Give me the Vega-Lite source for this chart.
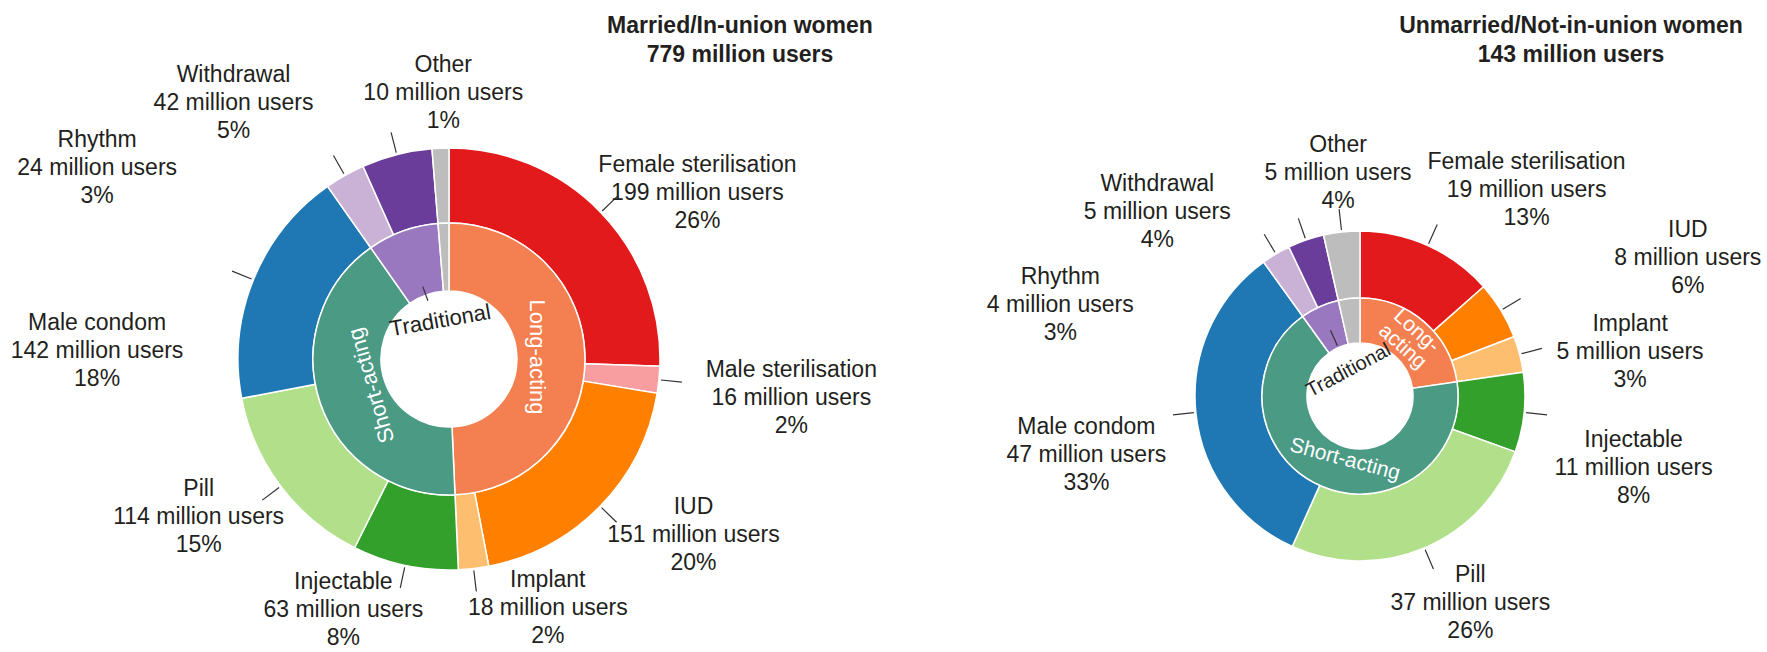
{
  "$schema": "https://vega.github.io/schema/vega-lite/v6.json",
  "background": "white",
  "padding": 0,
  "spacing": 0,
  "bounds": "flush",
  "config": {
    "view": {"stroke": null},
    "title": {"font": "Liberation Sans", "fontSize": 23, "fontWeight": "bold", "color": "#231f20", "lineHeight": 29},
    "text": {"font": "Liberation Sans", "fontSize": 23, "lineHeight": 28, "lineBreak": "\n", "color": "#231f20"}
  },
  "data": {"values": [
    {"group": "married", "seq": 1, "method": "Female sterilisation", "cat": "Long-acting", "users": 199, "label": "Female sterilisation\n199 million users\n26%"},
    {"group": "married", "seq": 2, "method": "Male sterilisation", "cat": "Long-acting", "users": 16, "label": "Male sterilisation\n16 million users\n2%"},
    {"group": "married", "seq": 3, "method": "IUD", "cat": "Long-acting", "users": 151, "label": "IUD\n151 million users\n20%"},
    {"group": "married", "seq": 4, "method": "Implant", "cat": "Long-acting", "users": 18, "label": "Implant\n18 million users\n2%"},
    {"group": "married", "seq": 5, "method": "Injectable", "cat": "Short-acting", "users": 63, "label": "Injectable\n63 million users\n8%"},
    {"group": "married", "seq": 6, "method": "Pill", "cat": "Short-acting", "users": 114, "label": "Pill\n114 million users\n15%"},
    {"group": "married", "seq": 7, "method": "Male condom", "cat": "Short-acting", "users": 142, "label": "Male condom\n142 million users\n18%"},
    {"group": "married", "seq": 8, "method": "Rhythm", "cat": "Traditional", "users": 24, "label": "Rhythm\n24 million users\n3%"},
    {"group": "married", "seq": 9, "method": "Withdrawal", "cat": "Traditional", "users": 42, "label": "Withdrawal\n42 million users\n5%"},
    {"group": "married", "seq": 10, "method": "Other", "cat": "Other", "users": 10, "label": "Other\n10 million users\n1%"},
    {"group": "unmarried", "seq": 1, "method": "Female sterilisation", "cat": "Long-acting", "users": 19, "label": "Female sterilisation\n19 million users\n13%"},
    {"group": "unmarried", "seq": 3, "method": "IUD", "cat": "Long-acting", "users": 8, "label": "IUD\n8 million users\n6%"},
    {"group": "unmarried", "seq": 4, "method": "Implant", "cat": "Long-acting", "users": 5, "label": "Implant\n5 million users\n3%"},
    {"group": "unmarried", "seq": 5, "method": "Injectable", "cat": "Short-acting", "users": 11, "label": "Injectable\n11 million users\n8%"},
    {"group": "unmarried", "seq": 6, "method": "Pill", "cat": "Short-acting", "users": 37, "label": "Pill\n37 million users\n26%"},
    {"group": "unmarried", "seq": 7, "method": "Male condom", "cat": "Short-acting", "users": 47, "label": "Male condom\n47 million users\n33%"},
    {"group": "unmarried", "seq": 8, "method": "Rhythm", "cat": "Traditional", "users": 4, "label": "Rhythm\n4 million users\n3%"},
    {"group": "unmarried", "seq": 9, "method": "Withdrawal", "cat": "Traditional", "users": 5, "label": "Withdrawal\n5 million users\n4%"},
    {"group": "unmarried", "seq": 10, "method": "Other", "cat": "Other", "users": 5, "label": "Other\n5 million users\n4%"}
  ]},
  "resolve": {"scale": {"theta": "independent", "x": "independent", "y": "independent"}},
  "hconcat": [
    {
      "width": 880,
      "height": 652,
      "title": {"text": ["Married/In-union women", "779 million users"], "anchor": "end", "align": "center", "dx": -140, "offset": -67},
      "transform": [{"filter": "datum.group === 'married'"}],
      "encoding": {
        "x": {"datum": 0, "type": "quantitative", "scale": {"domain": [-1, 0.96], "nice": false, "zero": false}, "axis": null},
        "y": {"datum": 0, "type": "quantitative", "scale": {"domain": [-1, 1.2253], "nice": false, "zero": false}, "axis": null}
      },
      "resolve": {"scale": {"theta": "independent"}},
      "layer": [
        {
          "mark": {"type": "arc", "radius": 211, "radius2": 136, "stroke": "#ffffff", "strokeWidth": 1.5},
          "encoding": {
            "theta": {"field": "users", "type": "quantitative", "stack": true},
            "order": {"field": "seq", "type": "quantitative"},
            "color": {"field": "method", "type": "nominal", "legend": null, "scale": {"domain": ["Female sterilisation","Male sterilisation","IUD","Implant","Injectable","Pill","Male condom","Rhythm","Withdrawal","Other","Long-acting","Short-acting","Traditional"], "range": ["#e31a1c","#f99ea0","#ff7f00","#fdbf6f","#33a02c","#b2df8a","#1f78b4","#cab2d6","#6a3d9a","#bdbdbd","#f47f50","#4a9a84","#9a78bf"]}}
          }
        },
        {
          "transform": [{"aggregate": [{"op": "sum", "field": "users", "as": "total"}, {"op": "min", "field": "seq", "as": "ord"}], "groupby": ["cat"]}],
          "mark": {"type": "arc", "radius": 136, "radius2": 68, "stroke": "#ffffff", "strokeWidth": 1.5},
          "encoding": {
            "theta": {"field": "total", "type": "quantitative", "stack": true},
            "order": {"field": "ord", "type": "quantitative"},
            "color": {"field": "cat", "type": "nominal", "legend": null, "scale": {"domain": ["Female sterilisation","Male sterilisation","IUD","Implant","Injectable","Pill","Male condom","Rhythm","Withdrawal","Other","Long-acting","Short-acting","Traditional"], "range": ["#e31a1c","#f99ea0","#ff7f00","#fdbf6f","#33a02c","#b2df8a","#1f78b4","#cab2d6","#6a3d9a","#bdbdbd","#f47f50","#4a9a84","#9a78bf"]}}
          }
        },
        {
          "mark": {"type": "arc", "radius": 234, "radius2": 213, "padAngle": 3.1, "stroke": "#333333", "strokeWidth": 1.2, "fill": "#ffffff", "fillOpacity": 0},
          "encoding": {
            "theta": {"field": "users", "type": "quantitative", "stack": true},
            "order": {"field": "seq", "type": "quantitative"},
            "strokeOpacity": {"condition": {"test": "datum.method !== 'Other'", "value": 1}, "value": 0}
          }
        },
        {
          "transform": [{"aggregate": [{"op": "sum", "field": "users", "as": "total"}, {"op": "min", "field": "seq", "as": "ord"}], "groupby": ["cat"]}],
          "mark": {"type": "arc", "radius": 77, "radius2": 62, "padAngle": 3.1, "stroke": "#333333", "strokeWidth": 1.2, "fill": "#ffffff", "fillOpacity": 0},
          "encoding": {
            "theta": {"field": "total", "type": "quantitative", "stack": true},
            "order": {"field": "ord", "type": "quantitative"},
            "strokeOpacity": {"condition": {"test": "datum.cat === 'Traditional'", "value": 1}, "value": 0}
          }
        },
        {"mark": {"type": "text", "clip": true, "radius": 294, "dx": 37, "dy": 10},
         "encoding": {"theta": {"field": "users", "type": "quantitative", "stack": true}, "order": {"field": "seq", "type": "quantitative"}, "text": {"condition": {"test": "datum.method === 'Female sterilisation'", "field": "label"}, "value": ""}}},
        {"mark": {"type": "text", "clip": true, "radius": 344, "dx": 0, "dy": -23},
         "encoding": {"theta": {"field": "users", "type": "quantitative", "stack": true}, "order": {"field": "seq", "type": "quantitative"}, "text": {"condition": {"test": "datum.method === 'Male sterilisation'", "field": "label"}, "value": ""}}},
        {"mark": {"type": "text", "clip": true, "radius": 298, "dx": 31, "dy": -60},
         "encoding": {"theta": {"field": "users", "type": "quantitative", "stack": true}, "order": {"field": "seq", "type": "quantitative"}, "text": {"condition": {"test": "datum.method === 'IUD'", "field": "label"}, "value": ""}}},
        {"mark": {"type": "text", "clip": true, "radius": 264, "dx": 68, "dy": -41},
         "encoding": {"theta": {"field": "users", "type": "quantitative", "stack": true}, "order": {"field": "seq", "type": "quantitative"}, "text": {"condition": {"test": "datum.method === 'Implant'", "field": "label"}, "value": ""}}},
        {"mark": {"type": "text", "clip": true, "radius": 272, "dx": -49, "dy": -43},
         "encoding": {"theta": {"field": "users", "type": "quantitative", "stack": true}, "order": {"field": "seq", "type": "quantitative"}, "text": {"condition": {"test": "datum.method === 'Injectable'", "field": "label"}, "value": ""}}},
        {"mark": {"type": "text", "clip": true, "radius": 295, "dx": -15, "dy": -48},
         "encoding": {"theta": {"field": "users", "type": "quantitative", "stack": true}, "order": {"field": "seq", "type": "quantitative"}, "text": {"condition": {"test": "datum.method === 'Pill'", "field": "label"}, "value": ""}}},
        {"mark": {"type": "text", "clip": true, "radius": 329, "dx": -47, "dy": 88},
         "encoding": {"theta": {"field": "users", "type": "quantitative", "stack": true}, "order": {"field": "seq", "type": "quantitative"}, "text": {"condition": {"test": "datum.method === 'Male condom'", "field": "label"}, "value": ""}}},
        {"mark": {"type": "text", "clip": true, "radius": 340, "dx": -184, "dy": 77},
         "encoding": {"theta": {"field": "users", "type": "quantitative", "stack": true}, "order": {"field": "seq", "type": "quantitative"}, "text": {"condition": {"test": "datum.method === 'Rhythm'", "field": "label"}, "value": ""}}},
        {"mark": {"type": "text", "clip": true, "radius": 301, "dx": -141, "dy": 8},
         "encoding": {"theta": {"field": "users", "type": "quantitative", "stack": true}, "order": {"field": "seq", "type": "quantitative"}, "text": {"condition": {"test": "datum.method === 'Withdrawal'", "field": "label"}, "value": ""}}},
        {"mark": {"type": "text", "clip": true, "radius": 266, "dx": 5, "dy": -28},
         "encoding": {"theta": {"field": "users", "type": "quantitative", "stack": true}, "order": {"field": "seq", "type": "quantitative"}, "text": {"condition": {"test": "datum.method === 'Other'", "field": "label"}, "value": ""}}},
        {"transform": [{"aggregate": [{"op": "sum", "field": "users", "as": "total"}, {"op": "min", "field": "seq", "as": "ord"}], "groupby": ["cat"]}],
         "mark": {"type": "text", "clip": true, "radius": 88, "angle": 90, "fontSize": 22, "fill": "#ffffff"},
         "encoding": {"theta": {"field": "total", "type": "quantitative", "stack": true}, "order": {"field": "ord", "type": "quantitative"}, "text": {"condition": {"test": "datum.cat === 'Long-acting'", "field": "cat"}, "value": ""}}},
        {"transform": [{"aggregate": [{"op": "sum", "field": "users", "as": "total"}, {"op": "min", "field": "seq", "as": "ord"}], "groupby": ["cat"]}],
         "mark": {"type": "text", "clip": true, "radius": 82, "angle": -106, "fontSize": 22, "fill": "#ffffff"},
         "encoding": {"theta": {"field": "total", "type": "quantitative", "stack": true}, "order": {"field": "ord", "type": "quantitative"}, "text": {"condition": {"test": "datum.cat === 'Short-acting'", "field": "cat"}, "value": ""}}},
        {"transform": [{"aggregate": [{"op": "sum", "field": "users", "as": "total"}, {"op": "min", "field": "seq", "as": "ord"}], "groupby": ["cat"]}],
         "mark": {"type": "text", "clip": true, "radius": 40, "angle": -10, "dx": 5, "fontSize": 22, "fill": "#231f20"},
         "encoding": {"theta": {"field": "total", "type": "quantitative", "stack": true}, "order": {"field": "ord", "type": "quantitative"}, "text": {"condition": {"test": "datum.cat === 'Traditional'", "field": "cat"}, "value": ""}}}
      ]
    },
    {
      "width": 887,
      "height": 652,
      "title": {"text": ["Unmarried/Not-in-union women", "143 million users"], "anchor": "end", "align": "center", "dx": -196, "offset": -67},
      "transform": [{"filter": "datum.group === 'unmarried'"}],
      "encoding": {
        "x": {"datum": 0, "type": "quantitative", "scale": {"domain": [-1, 0.8479], "nice": false, "zero": false}, "axis": null},
        "y": {"datum": 0, "type": "quantitative", "scale": {"domain": [-1, 1.5469], "nice": false, "zero": false}, "axis": null}
      },
      "resolve": {"scale": {"theta": "independent"}},
      "layer": [
        {
          "mark": {"type": "arc", "radius": 165, "radius2": 98, "stroke": "#ffffff", "strokeWidth": 1.5},
          "encoding": {
            "theta": {"field": "users", "type": "quantitative", "stack": true},
            "order": {"field": "seq", "type": "quantitative"},
            "color": {"field": "method", "type": "nominal", "legend": null, "scale": {"domain": ["Female sterilisation","Male sterilisation","IUD","Implant","Injectable","Pill","Male condom","Rhythm","Withdrawal","Other","Long-acting","Short-acting","Traditional"], "range": ["#e31a1c","#f99ea0","#ff7f00","#fdbf6f","#33a02c","#b2df8a","#1f78b4","#cab2d6","#6a3d9a","#bdbdbd","#f47f50","#4a9a84","#9a78bf"]}}
          }
        },
        {
          "transform": [{"aggregate": [{"op": "sum", "field": "users", "as": "total"}, {"op": "min", "field": "seq", "as": "ord"}], "groupby": ["cat"]}],
          "mark": {"type": "arc", "radius": 98, "radius2": 53, "stroke": "#ffffff", "strokeWidth": 1.5},
          "encoding": {
            "theta": {"field": "total", "type": "quantitative", "stack": true},
            "order": {"field": "ord", "type": "quantitative"},
            "color": {"field": "cat", "type": "nominal", "legend": null, "scale": {"domain": ["Female sterilisation","Male sterilisation","IUD","Implant","Injectable","Pill","Male condom","Rhythm","Withdrawal","Other","Long-acting","Short-acting","Traditional"], "range": ["#e31a1c","#f99ea0","#ff7f00","#fdbf6f","#33a02c","#b2df8a","#1f78b4","#cab2d6","#6a3d9a","#bdbdbd","#f47f50","#4a9a84","#9a78bf"]}}
          }
        },
        {
          "mark": {"type": "arc", "radius": 188, "radius2": 167, "padAngle": 3.1, "stroke": "#333333", "strokeWidth": 1.2, "fill": "#ffffff", "fillOpacity": 0},
          "encoding": {
            "theta": {"field": "users", "type": "quantitative", "stack": true},
            "order": {"field": "seq", "type": "quantitative"}
          }
        },
        {
          "transform": [{"aggregate": [{"op": "sum", "field": "users", "as": "total"}, {"op": "min", "field": "seq", "as": "ord"}], "groupby": ["cat"]}],
          "mark": {"type": "arc", "radius": 72, "radius2": 55, "padAngle": 3.1, "stroke": "#333333", "strokeWidth": 1.2, "fill": "#ffffff", "fillOpacity": 0},
          "encoding": {
            "theta": {"field": "total", "type": "quantitative", "stack": true},
            "order": {"field": "ord", "type": "quantitative"},
            "strokeOpacity": {"condition": {"test": "datum.cat === 'Traditional'", "value": 1}, "value": 0}
          }
        },
        {"mark": {"type": "text", "clip": true, "radius": 257, "dx": 61, "dy": 0},
         "encoding": {"theta": {"field": "users", "type": "quantitative", "stack": true}, "order": {"field": "seq", "type": "quantitative"}, "text": {"condition": {"test": "datum.method === 'Female sterilisation'", "field": "label"}, "value": ""}}},
        {"mark": {"type": "text", "clip": true, "radius": 352, "dx": 27, "dy": 17},
         "encoding": {"theta": {"field": "users", "type": "quantitative", "stack": true}, "order": {"field": "seq", "type": "quantitative"}, "text": {"condition": {"test": "datum.method === 'IUD'", "field": "label"}, "value": ""}}},
        {"mark": {"type": "text", "clip": true, "radius": 272, "dx": 7, "dy": -3},
         "encoding": {"theta": {"field": "users", "type": "quantitative", "stack": true}, "order": {"field": "seq", "type": "quantitative"}, "text": {"condition": {"test": "datum.method === 'Implant'", "field": "label"}, "value": ""}}},
        {"mark": {"type": "text", "clip": true, "radius": 279, "dx": -4, "dy": 16},
         "encoding": {"theta": {"field": "users", "type": "quantitative", "stack": true}, "order": {"field": "seq", "type": "quantitative"}, "text": {"condition": {"test": "datum.method === 'Injectable'", "field": "label"}, "value": ""}}},
        {"mark": {"type": "text", "clip": true, "radius": 234, "dx": 19, "dy": -36},
         "encoding": {"theta": {"field": "users", "type": "quantitative", "stack": true}, "order": {"field": "seq", "type": "quantitative"}, "text": {"condition": {"test": "datum.method === 'Pill'", "field": "label"}, "value": ""}}},
        {"mark": {"type": "text", "clip": true, "radius": 278, "dx": 3, "dy": 3},
         "encoding": {"theta": {"field": "users", "type": "quantitative", "stack": true}, "order": {"field": "seq", "type": "quantitative"}, "text": {"condition": {"test": "datum.method === 'Male condom'", "field": "label"}, "value": ""}}},
        {"mark": {"type": "text", "clip": true, "radius": 231, "dx": -182, "dy": 80},
         "encoding": {"theta": {"field": "users", "type": "quantitative", "stack": true}, "order": {"field": "seq", "type": "quantitative"}, "text": {"condition": {"test": "datum.method === 'Rhythm'", "field": "label"}, "value": ""}}},
        {"mark": {"type": "text", "clip": true, "radius": 240, "dx": -124, "dy": 15},
         "encoding": {"theta": {"field": "users", "type": "quantitative", "stack": true}, "order": {"field": "seq", "type": "quantitative"}, "text": {"condition": {"test": "datum.method === 'Withdrawal'", "field": "label"}, "value": ""}}},
        {"mark": {"type": "text", "clip": true, "radius": 224, "dx": 3, "dy": -28},
         "encoding": {"theta": {"field": "users", "type": "quantitative", "stack": true}, "order": {"field": "seq", "type": "quantitative"}, "text": {"condition": {"test": "datum.method === 'Other'", "field": "label"}, "value": ""}}},
        {"transform": [{"aggregate": [{"op": "sum", "field": "users", "as": "total"}, {"op": "min", "field": "seq", "as": "ord"}], "groupby": ["cat"]}],
         "mark": {"type": "text", "clip": true, "radius": 76, "angle": 42, "dy": -10, "fontSize": 21, "lineHeight": 21, "fill": "#ffffff"},
         "encoding": {"theta": {"field": "total", "type": "quantitative", "stack": true}, "order": {"field": "ord", "type": "quantitative"}, "text": {"condition": {"test": "datum.cat === 'Long-acting'", "value": "Long-\nacting"}, "value": ""}}},
        {"transform": [{"aggregate": [{"op": "sum", "field": "users", "as": "total"}, {"op": "min", "field": "seq", "as": "ord"}], "groupby": ["cat"]}],
         "mark": {"type": "text", "clip": true, "radius": 66, "angle": 15, "dx": 11, "fontSize": 21, "fill": "#ffffff"},
         "encoding": {"theta": {"field": "total", "type": "quantitative", "stack": true}, "order": {"field": "ord", "type": "quantitative"}, "text": {"condition": {"test": "datum.cat === 'Short-acting'", "field": "cat"}, "value": ""}}},
        {"transform": [{"aggregate": [{"op": "sum", "field": "users", "as": "total"}, {"op": "min", "field": "seq", "as": "ord"}], "groupby": ["cat"]}],
         "mark": {"type": "text", "clip": true, "radius": 28, "angle": -28, "fontSize": 20, "fill": "#231f20"},
         "encoding": {"theta": {"field": "total", "type": "quantitative", "stack": true}, "order": {"field": "ord", "type": "quantitative"}, "text": {"condition": {"test": "datum.cat === 'Traditional'", "field": "cat"}, "value": ""}}}
      ]
    }
  ]
}
